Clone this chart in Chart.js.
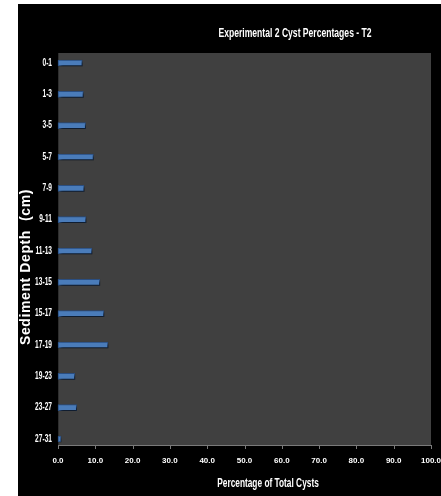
<!DOCTYPE html>
<html>
<head>
<meta charset="utf-8">
<script src="https://cdn.jsdelivr.net/npm/chart.js@4/dist/chart.umd.min.js"></script>
<style>
  html, body { margin: 0; padding: 0; background: #ffffff; }
  #panel { position: absolute; left: 18px; top: 4px; width: 423px; height: 492px; background: #000000; }
  canvas { display: block; }
</style>
</head>
<body>
<div id="panel"><canvas id="chart" width="423" height="492"></canvas></div>
<script>
// Sediment depth intervals (cm), top to bottom
const depths = ['0-1', '1-3', '3-5', '5-7', '7-9', '9-11', '11-13', '13-15', '15-17', '17-19', '19-23', '23-27', '27-31'];
// Percentage of total cysts in each interval
const percentages = [6.5, 6.8, 7.4, 9.5, 7.0, 7.5, 9.1, 11.2, 12.3, 13.4, 4.5, 5.0, 0.8];
// Percentage axis range and step
const xMin = 0;
const xMax = 100;
const xStep = 10;

const chartTitle = 'Experimental 2 Cyst Percentages - T2';
const xTitle = 'Percentage of Total Cysts';
const yTitle = 'Sediment Depth  (cm)';

const tickFont = '"Liberation Sans", Arial, sans-serif';

// Draws a horizontally condensed, centred label
function condensedText(ctx, text, x, y, size, squeeze) {
  ctx.save();
  ctx.translate(x, y);
  ctx.scale(squeeze, 1);
  ctx.font = 'bold ' + size + 'px "Liberation Sans", Arial, sans-serif';
  ctx.textAlign = 'center';
  ctx.textBaseline = 'middle';
  ctx.fillText(text, 0, 0);
  ctx.restore();
}

// Condenses the depth labels horizontally, anchored at their right edge
function condenseAxisLabels(scale, squeeze) {
  if (scale._condensed) return;
  scale._condensed = true;
  const original = scale.drawLabels.bind(scale);
  scale.drawLabels = function (area) {
    const ctx = this.ctx;
    const anchor = this.right - this.options.ticks.padding;
    ctx.save();
    ctx.translate(anchor, 0);
    ctx.scale(squeeze, 1);
    ctx.translate(-anchor, 0);
    original(area);
    ctx.restore();
  };
}

// Paints the grey plot panel, axis line, tick marks and the titles
const decorations = {
  id: 'decorations',
  beforeDraw(chart) {
    condenseAxisLabels(chart.scales.y, 0.66);
  },
  beforeDatasetsDraw(chart) {
    const { ctx, chartArea: a, scales } = chart;
    ctx.save();
    ctx.fillStyle = '#404040';
    ctx.fillRect(a.left, a.top - 10, a.right - a.left, a.bottom - a.top + 16);
    ctx.fillStyle = '#2e2e2e';
    ctx.fillRect(a.left, a.top - 10, 1, a.bottom - a.top + 16);
    // bottom axis line with tick marks
    const yAxis = a.bottom + 6;
    ctx.strokeStyle = '#7a7a7a';
    ctx.lineWidth = 1;
    ctx.beginPath();
    ctx.moveTo(a.left, yAxis + 0.5);
    ctx.lineTo(a.right, yAxis + 0.5);
    for (let v = xMin; v <= xMax; v += xStep) {
      const px = Math.round(scales.x.getPixelForValue(v)) + 0.5;
      ctx.moveTo(px, yAxis);
      ctx.lineTo(px, yAxis + 4);
    }
    ctx.stroke();
    ctx.restore();
  },
  afterDraw(chart) {
    const { ctx } = chart;
    ctx.save();
    ctx.fillStyle = '#ffffff';
    condensedText(ctx, chartTitle, 277, 29, 13, 0.66);
    condensedText(ctx, xTitle, 250, 479, 13, 0.64);
    ctx.translate(8, 263);
    ctx.rotate(-Math.PI / 2);
    ctx.font = 'bold 14px "Liberation Sans", Arial, sans-serif';
    ctx.letterSpacing = '0.6px';
    ctx.textAlign = 'center';
    ctx.textBaseline = 'middle';
    ctx.fillText(yTitle, 0, 0);
    ctx.restore();
  }
};

// Soft drop shadow under the bars
const barShadow = {
  id: 'barShadow',
  beforeDatasetDraw(chart) {
    const ctx = chart.ctx;
    ctx.save();
    ctx.shadowColor = 'rgba(0,0,0,0.75)';
    ctx.shadowBlur = 3;
    ctx.shadowOffsetX = 2;
    ctx.shadowOffsetY = 2;
  },
  afterDatasetDraw(chart) {
    chart.ctx.restore();
  }
};

new Chart(document.getElementById('chart'), {
  type: 'bar',
  data: {
    labels: depths,
    datasets: [{
      data: percentages,
      backgroundColor: '#4a7cba',
      borderColor: '#2c5185',
      borderWidth: 1,
      borderSkipped: false,
      barThickness: 6,
      clip: false
    }]
  },
  options: {
    indexAxis: 'y',
    responsive: false,
    animation: false,
    layout: { padding: { top: 59, right: 10, left: 0, bottom: 0 } },
    plugins: {
      legend: { display: false },
      title: { display: false },
      tooltip: { enabled: false }
    },
    scales: {
      x: {
        type: 'linear',
        min: xMin,
        max: xMax,
        grid: { display: false, drawTicks: false },
        border: { display: false },
        ticks: {
          stepSize: xStep,
          color: '#ffffff',
          padding: 17,
          maxRotation: 0,
          font: { family: tickFont, size: 8, weight: 'bold' },
          callback: v => Number(v).toFixed(1)
        },
        afterFit(scale) {
          scale.height = 57;
          scale.paddingLeft = 0;
          scale.paddingRight = 0;
        }
      },
      y: {
        type: 'category',
        offset: false,
        grid: { display: false, drawTicks: false },
        border: { display: false },
        ticks: {
          color: '#ffffff',
          padding: 6,
          autoSkip: false,
          font: { family: tickFont, size: 10, weight: 'bold' }
        },
        afterFit(scale) { scale.width = 40; }
      }
    }
  },
  plugins: [decorations, barShadow]
});
</script>
</body>
</html>
